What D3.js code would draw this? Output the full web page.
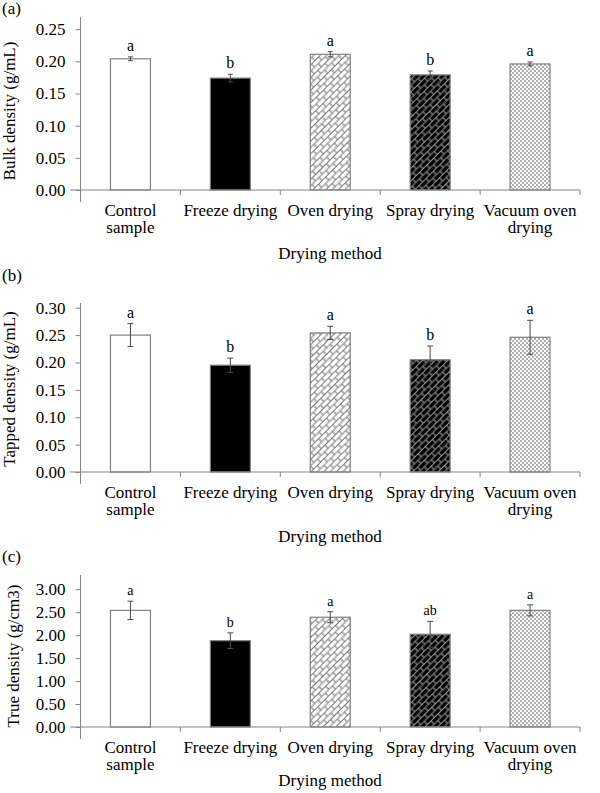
<!DOCTYPE html>
<html>
<head>
<meta charset="utf-8">
<script src="https://cdn.jsdelivr.net/npm/d3@7"></script>
<style>
  body { margin: 0; background: #fff; }
  text { font-family: "Liberation Serif", "Times New Roman", serif; fill: #000; }
</style>
</head>
<body>
<svg id="chart" width="600" height="793"></svg>
<script>
// data
const categories = ['Control sample', 'Freeze drying', 'Oven drying', 'Spray drying', 'Vacuum oven drying'];
const categoryLines = [['Control', 'sample'], ['Freeze drying'], ['Oven drying'], ['Spray drying'], ['Vacuum oven', 'drying']];

const bulkValues = [0.204, 0.174, 0.211, 0.179, 0.196];
const bulkErrors = [0.003, 0.006, 0.004, 0.006, 0.003];
const bulkLetters = ['a', 'b', 'a', 'b', 'a'];
const bulkTicks = [0, 0.05, 0.10, 0.15, 0.20, 0.25];

const tappedValues = [0.250, 0.195, 0.254, 0.205, 0.246];
const tappedErrors = [0.021, 0.013, 0.012, 0.025, 0.031];
const tappedLetters = ['a', 'b', 'a', 'b', 'a'];
const tappedTicks = [0, 0.05, 0.10, 0.15, 0.20, 0.25, 0.30];

const trueValues = [2.54, 1.88, 2.39, 2.02, 2.54];
const trueErrors = [0.20, 0.17, 0.12, 0.28, 0.12];
const trueLetters = ['a', 'b', 'a', 'ab', 'a'];
const trueTicks = [0, 0.5, 1.0, 1.5, 2.0, 2.5, 3.0];

const svg = d3.select('#chart');
const defs = svg.append('defs');

// bar fills, one per drying method
function brick(id, bg, fg) {
    const p = defs.append('pattern')
        .attr('id', id)
        .attr('patternUnits', 'userSpaceOnUse')
        .attr('width', 10).attr('height', 9)
        .attr('patternTransform', 'rotate(-45)');
    p.append('rect').attr('width', 10).attr('height', 9).attr('fill', bg);
    p.append('path')
        .attr('d', 'M0,0H10M0,4.5H10M0,9H10M0,0V4.5M10,0V4.5M5,4.5V9')
        .attr('stroke', fg).attr('stroke-width', 1.1).attr('fill', 'none');
}
brick('oven', '#fff', '#7a7a7a');
brick('spray', '#000', '#9a9a9a');

const dots = defs.append('pattern')
    .attr('id', 'vacuum')
    .attr('patternUnits', 'userSpaceOnUse')
    .attr('width', 4).attr('height', 4);
dots.append('rect').attr('width', 4).attr('height', 4).attr('fill', '#fff');
dots.append('circle').attr('cx', 1).attr('cy', 1).attr('r', 0.9).attr('fill', '#888');
dots.append('circle').attr('cx', 3).attr('cy', 3).attr('r', 0.9).attr('fill', '#888');

const fills = ['#fff', '#000', 'url(#oven)', 'url(#spray)', 'url(#vacuum)'];
const axisColor = '#858585';
const fontSize = 17;

const panels = [
    { tag: '(a)', tagY: 14, title: 'Bulk density (g/mL)', titleX: 15, titleY: 111, top: 17, zero: 190, max: 0.269,
      values: bulkValues, errors: bulkErrors, letters: bulkLetters, ticks: bulkTicks,
      letterSize: 16, cap: 2.5, methodY: 259 },
    { tag: '(b)', tagY: 281, title: 'Tapped density (g/mL)', titleX: 15, titleY: 389, top: 303, zero: 472, max: 0.3086,
      values: tappedValues, errors: tappedErrors, letters: tappedLetters, ticks: tappedTicks,
      letterSize: 16, cap: 3, methodY: 542 },
    { tag: '(c)', tagY: 562, title: 'True density (g/cm3)', titleX: 19, titleY: 656, top: 575, zero: 727, max: 3.31,
      values: trueValues, errors: trueErrors, letters: trueLetters, ticks: trueTicks,
      letterSize: 14, cap: 3, methodY: 786 }
];

const x = d3.scaleBand()
    .domain(categories)
    .range([80.5, 580])
    .paddingInner(0.6)
    .paddingOuter(0.3);
const step = x.step();

panels.forEach(p => {
    const y = d3.scaleLinear().domain([0, p.max]).range([p.zero, p.top]);
    const g = svg.append('g');

    g.append('text').attr('x', 2).attr('y', p.tagY)
        .attr('font-size', fontSize).text(p.tag);

    // y axis
    const yAxis = g.append('g')
        .attr('transform', 'translate(80.5,0)')
        .call(d3.axisLeft(y).tickValues(p.ticks).tickFormat(d3.format('.2f'))
            .tickSize(5).tickSizeOuter(0).tickPadding(10));
    yAxis.select('.domain').remove();
    yAxis.selectAll('line').attr('stroke', axisColor);
    yAxis.selectAll('text').attr('font-size', fontSize)
        .attr('font-family', '"Liberation Serif", "Times New Roman", serif');
    g.append('line')
        .attr('x1', 80.5).attr('x2', 80.5)
        .attr('y1', p.top).attr('y2', p.zero + 12)
        .attr('stroke', axisColor);

    g.append('text')
        .attr('transform', `translate(${p.titleX},${p.titleY}) rotate(-90)`)
        .attr('text-anchor', 'middle')
        .attr('font-size', fontSize)
        .text(p.title);

    // bars
    g.selectAll('rect.bar')
        .data(p.values)
        .join('rect')
        .attr('class', 'bar')
        .attr('x', (d, i) => x(categories[i]))
        .attr('width', x.bandwidth())
        .attr('y', d => y(d))
        .attr('height', d => y(0) - y(d))
        .attr('fill', (d, i) => fills[i])
        .attr('stroke', '#808080')
        .attr('stroke-width', 1.2);

    // error bars
    const err = g.selectAll('g.err')
        .data(p.values)
        .join('g')
        .attr('class', 'err')
        .attr('stroke', '#4a4a4a')
        .attr('stroke-width', 1);
    err.append('line')
        .attr('x1', (d, i) => x(categories[i]) + x.bandwidth() / 2)
        .attr('x2', (d, i) => x(categories[i]) + x.bandwidth() / 2)
        .attr('y1', (d, i) => y(d - p.errors[i]))
        .attr('y2', (d, i) => y(d + p.errors[i]));
    [1, -1].forEach(s => {
        err.append('line')
            .attr('x1', (d, i) => x(categories[i]) + x.bandwidth() / 2 - p.cap)
            .attr('x2', (d, i) => x(categories[i]) + x.bandwidth() / 2 + p.cap)
            .attr('y1', (d, i) => y(d + s * p.errors[i]))
            .attr('y2', (d, i) => y(d + s * p.errors[i]));
    });

    // significance letters
    g.selectAll('text.letter')
        .data(p.values)
        .join('text')
        .attr('class', 'letter')
        .attr('x', (d, i) => x(categories[i]) + x.bandwidth() / 2)
        .attr('y', (d, i) => y(d + p.errors[i]) - 6)
        .attr('text-anchor', 'middle')
        .attr('font-size', p.letterSize)
        .text((d, i) => p.letters[i]);

    // x axis (runs a little left of the y axis, as in the figure)
    g.append('line')
        .attr('x1', 70).attr('x2', 580)
        .attr('y1', p.zero).attr('y2', p.zero)
        .attr('stroke', axisColor);
    g.selectAll('line.xtick')
        .data(categories)
        .join('line')
        .attr('class', 'xtick')
        .attr('x1', d => x(d) - step * 0.3 + step).attr('x2', d => x(d) - step * 0.3 + step)
        .attr('y1', p.zero).attr('y2', p.zero + 5)
        .attr('stroke', axisColor);

    const labels = g.selectAll('text.cat')
        .data(categories)
        .join('text')
        .attr('class', 'cat')
        .attr('text-anchor', 'middle')
        .attr('font-size', fontSize)
        .attr('x', d => x(d) + x.bandwidth() / 2)
        .attr('y', p.zero + 26);
    labels.selectAll('tspan')
        .data((d, i) => categoryLines[i])
        .join('tspan')
        .attr('x', function() { return this.parentNode.getAttribute('x'); })
        .attr('dy', (d, j) => j === 0 ? 0 : 16.5)
        .text(d => d);

    g.append('text')
        .attr('x', 330).attr('y', p.methodY)
        .attr('text-anchor', 'middle')
        .attr('font-size', fontSize)
        .text('Drying method');
});
</script>
</body>
</html>
